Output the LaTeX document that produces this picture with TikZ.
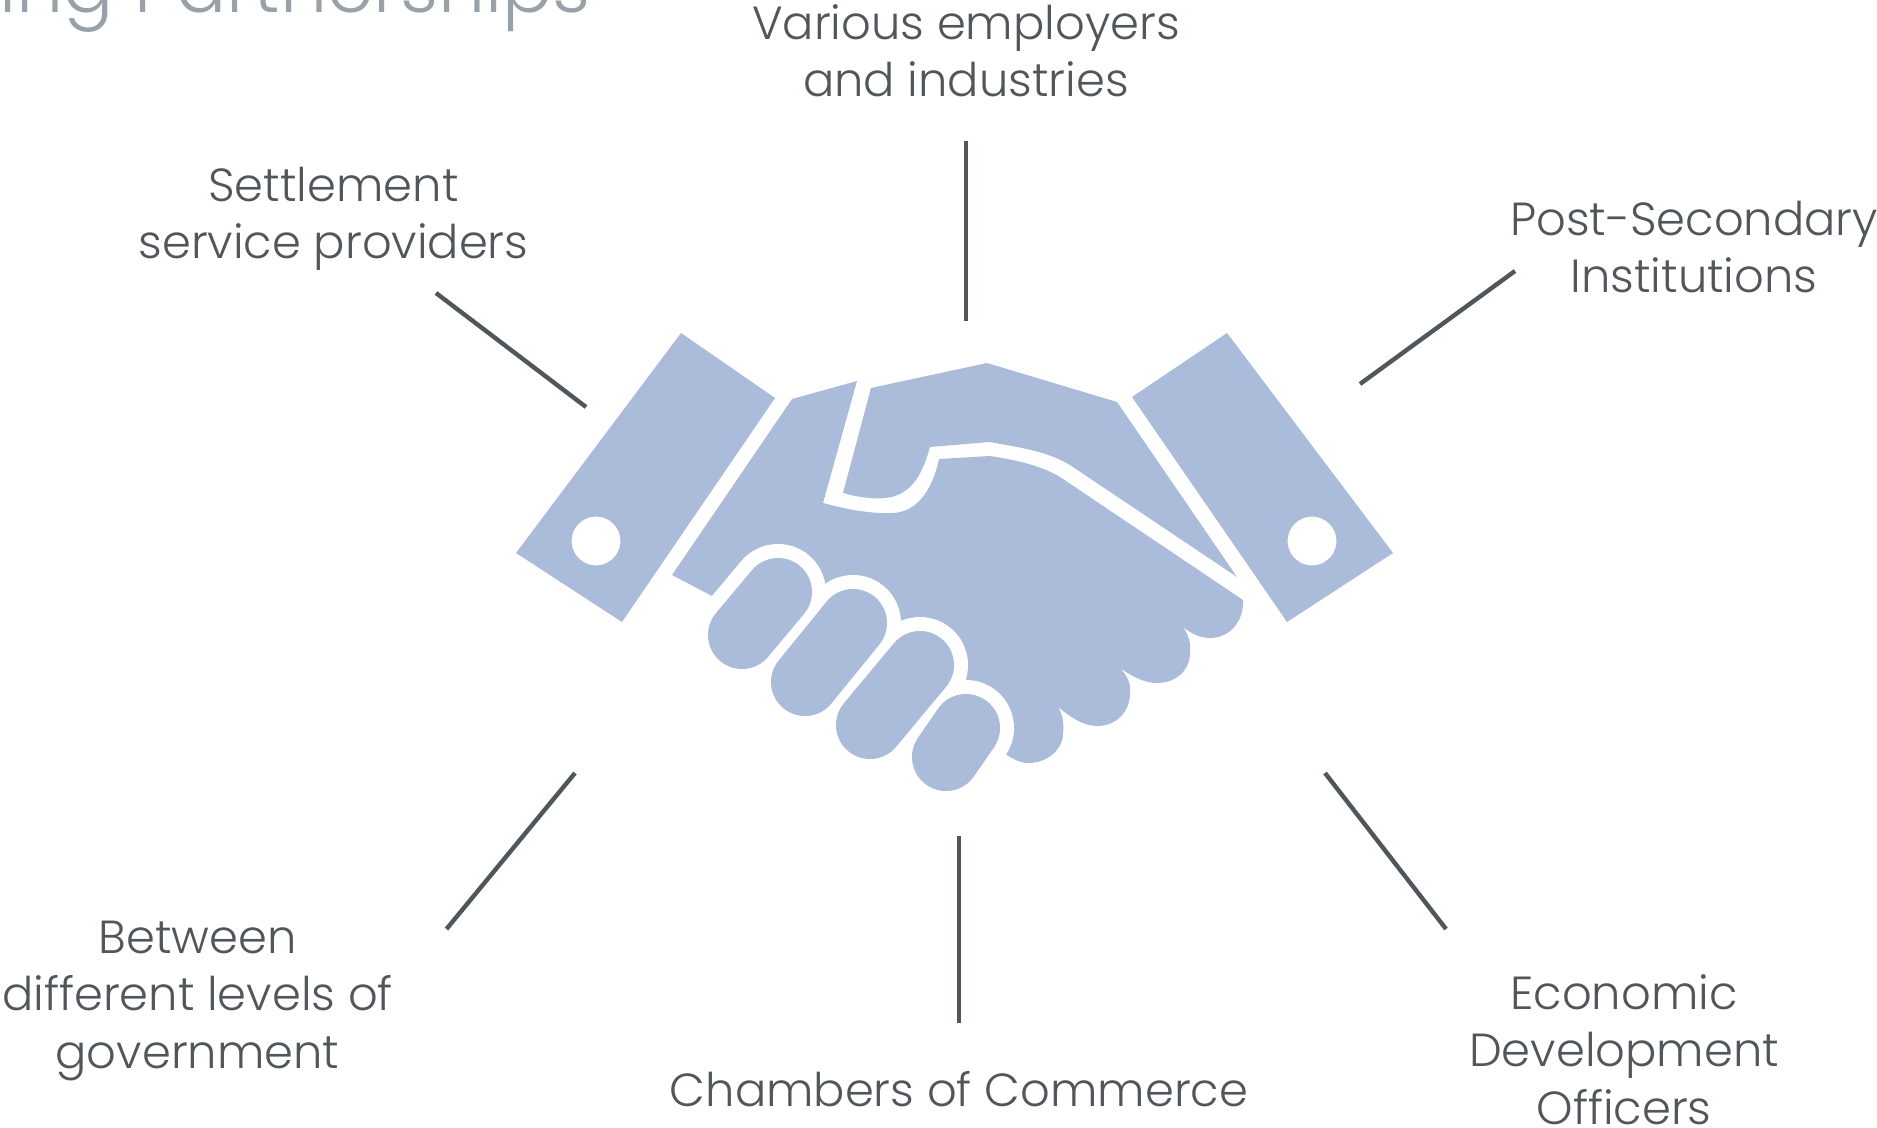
\documentclass[tikz,border=0pt]{standalone}
\usepackage{fontspec}
\setmainfont{Poppins Light}
\definecolor{handblue}{HTML}{ABBBDA}
\definecolor{inkgrey}{HTML}{50565B}
\definecolor{titlegrey}{HTML}{98A1A8}
\tikzset{
  label/.style={text=inkgrey,align=center,anchor=base,inner sep=0pt,font=\fontsize{23.2}{28.75}\selectfont},
  spoke/.style={draw=inkgrey,line width=2.2pt},
  blue/.style={fill=handblue,draw=none},
  fingerhalo/.style={draw=white,line width=48pt,line cap=round},
  fingerbody/.style={draw=handblue,line width=34pt,line cap=round}
}
\begin{document}
\begin{tikzpicture}[x=0.5pt,y=-0.5pt]
\clip (0,0) rectangle (1877,1128);
\fill[white] (0,0) rectangle (1877,1128);
% title
\node[anchor=base east,inner sep=0pt,text=titlegrey,font=\fontsize{37.2}{42}\selectfont] (title) at (591,13) {ing Partnerships};
% cuffs
\fill[blue,even odd rule] (681,333) -- (775,398) -- (622,622) -- (516,553) -- cycle (596,541) circle[radius=24.5];
\fill[blue,even odd rule] (1227,333) -- (1393,553) -- (1287,622) -- (1132,397) -- cycle (1312,541) circle[radius=24.5];
% upper part of right hand
\fill[blue] (871,388) -- (987,363) -- (1117,402) -- (1237,577) -- (1070,465)
  .. controls (1045,450) and (1015,447) .. (990,442) -- (930,447)
  .. controls (925,465) and (918,482) .. (905,491)
  .. controls (890,502) and (865,499) .. (843,493) -- cycle;
% main hand
\fill[blue] (792,399) -- (857,381) -- (823,503)
  .. controls (845,509) and (870,514) .. (893,513)
  .. controls (918,512) and (933,488) .. (939,459)
  -- (990,456) .. controls (1015,460) and (1040,465) .. (1060,477)
  -- (1243,600) .. controls (1244,622) and (1229,638) .. (1210,638)
  .. controls (1200,638) and (1190,633) .. (1183,627)
  .. controls (1189,635) and (1191,645) .. (1190,653)
  .. controls (1190,670) and (1176,683) .. (1157,683)
  .. controls (1143,683) and (1130,675) .. (1120,668)
  .. controls (1128,676) and (1131,685) .. (1130,693)
  .. controls (1130,712) and (1116,726) .. (1097,726)
  .. controls (1082,726) and (1068,715) .. (1058,707)
  .. controls (1063,715) and (1064,724) .. (1063,733)
  .. controls (1063,750) and (1047,763) .. (1028,763)
  .. controls (1020,763) and (1013,759) .. (1007,755)
  -- (966,728) -- (922,660) -- (853,623) -- (778,592) -- (712,596) -- (672,575) -- cycle;
% fingers
\foreach \a/\b in {{778,592}/{742,635},{853,623}/{805,682},{920,665}/{870,725},{966,728}/{946,757}}
  \draw[fingerhalo] (\a) -- (\b);
\foreach \a/\b in {{778,592}/{742,635},{853,623}/{805,682},{920,665}/{870,725},{966,728}/{946,757}}
  \draw[fingerbody] (\a) -- (\b);
% labels
\node[label] (various) at (966,97) {Various employers\\and industries};
\node[label] (settle) at (333.5,259) {Settlement\\service providers};
\node[label] (post) at (1694,293) {Post-Secondary\\Institutions};
\node[label] (gov) at (197.5,1068) {Between\\different levels of\\government};
\node[label] (chambers) at (959,1106) {Chambers of Commerce};
\node[label] (econ) at (1624,1124) {Economic\\Development\\Officers};
% spokes
\coordinate (s1a) at (966,141); \coordinate (s1b) at (966,321);
\coordinate (s2a) at (436,293); \coordinate (s2b) at (586,407);
\coordinate (s3a) at (1515,271); \coordinate (s3b) at (1360,384);
\coordinate (s4a) at (446.5,929); \coordinate (s4b) at (575,773);
\coordinate (s5a) at (959,1023); \coordinate (s5b) at (959,836);
\coordinate (s6a) at (1446,929); \coordinate (s6b) at (1325,773);
\draw[spoke] (s1a) -- (s1b);
\draw[spoke] (s2a) -- (s2b);
\draw[spoke] (s3a) -- (s3b);
\draw[spoke] (s4a) -- (s4b);
\draw[spoke] (s5a) -- (s5b);
\draw[spoke] (s6a) -- (s6b);
\end{tikzpicture}
\end{document}
